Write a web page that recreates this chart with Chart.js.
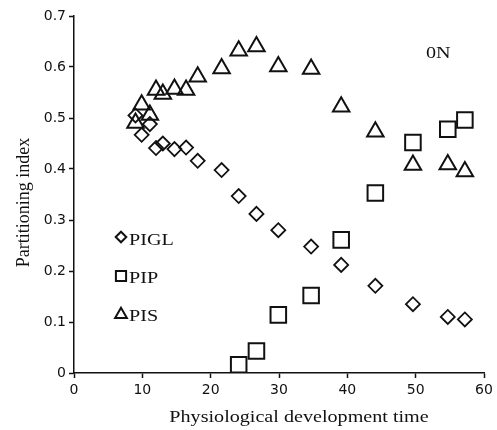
<!DOCTYPE html>
<html>
<head>
<meta charset="utf-8">
<script src="https://cdn.jsdelivr.net/npm/chart.js@4/dist/chart.umd.min.js"></script>
<style>
html,body{margin:0;padding:0;background:#fff;}
#wrap{width:497px;height:430px;position:relative;}
</style>
</head>
<body>
<div id="wrap"><canvas id="c" width="497" height="430"></canvas></div>
<script>
// Physiological development time (x) shared by the series
const pdt = [9.0, 9.9, 11.1, 12.0, 13.0, 14.7, 16.4, 18.1, 21.6, 24.1, 26.7, 29.9, 34.7, 39.1, 44.1, 49.6, 54.7, 57.2];
const pigl = [0.505, 0.467, 0.488, 0.441, 0.450, 0.439, 0.442, 0.416, 0.398, 0.347, 0.312, 0.280, 0.248, 0.212, 0.171, 0.135, 0.110, 0.105];
const pis  = [0.490, 0.526, 0.506, 0.555, 0.547, 0.557, 0.555, 0.581, 0.597, 0.632, 0.640, 0.601, 0.596, 0.522, 0.473, 0.408, 0.409, 0.395];
const pipX = [24.1, 26.7, 29.9, 34.7, 39.1, 44.1, 49.6, 54.7, 57.2];
const pip  = [0.016, 0.043, 0.114, 0.152, 0.261, 0.353, 0.452, 0.478, 0.496];
const seriesNames = ['PIGL', 'PIP', 'PIS'];
const xTicks = [0, 10, 20, 30, 40, 50, 60];
const yTicks = [0, 0.1, 0.2, 0.3, 0.4, 0.5, 0.6, 0.7];
const panelLabel = '0N';
const xTitle = 'Physiological development time';
const yTitle = 'Partitioning index';

const toPts = (xs, ys) => xs.map((x, i) => ({x: x, y: ys[i]}));
const SERIF = '"Liberation Serif", "Times New Roman", serif';
const SANS = '"DejaVu Sans", Verdana, sans-serif';
const SX = 1.15; // horizontal widening of the serif lettering

function wideText(ctx, txt, x, y, align) {
  ctx.save();
  ctx.translate(x, y);
  ctx.scale(SX, 1);
  ctx.textAlign = align;
  ctx.fillText(txt, 0, 0);
  ctx.restore();
}

const overlay = {
  id: 'overlay',
  afterDraw(chart) {
    const ctx = chart.ctx;
    const xs = chart.scales.x, ys = chart.scales.y;
    const ca = chart.chartArea;
    ctx.save();
    ctx.fillStyle = '#111';
    ctx.textBaseline = 'alphabetic';
    // axis titles
    ctx.font = '17.5px ' + SERIF;
    wideText(ctx, xTitle, (ca.left + ca.right) / 2 + 20, 421.5, 'center');
    ctx.save();
    ctx.translate(29, (ca.top + ca.bottom) / 2 + 8);
    ctx.rotate(-Math.PI / 2);
    ctx.font = '18px ' + SERIF;
    ctx.textAlign = 'center';
    ctx.fillText(yTitle, 0, 0);
    ctx.restore();
    // panel label
    ctx.font = '17.5px ' + SERIF;
    wideText(ctx, panelLabel, xs.getPixelForValue(53.3), ys.getPixelForValue(0.629) + 6, 'center');
    // legend
    const styles = ['rectRot', 'rect', 'triangle'];
    const radii = [5.3, 7.2, 6.8];
    const dy = [-1.5, -0.5, 0];
    const lx = ca.left + 47;
    const rows = [238.5, 276.5, 314.5];
    for (let i = 0; i < seriesNames.length; i++) {
      ctx.strokeStyle = '#111';
      ctx.fillStyle = 'rgba(0,0,0,0)';
      ctx.lineWidth = 2;
      Chart.helpers.drawPoint(ctx, {pointStyle: styles[i], radius: radii[i], borderWidth: 2, rotation: 0}, lx, rows[i] + dy[i]);
      ctx.fillStyle = '#111';
      ctx.font = '17.5px ' + SERIF;
      wideText(ctx, seriesNames[i], lx + 8, rows[i] + 6, 'left');
    }
    ctx.restore();
  }
};

new Chart(document.getElementById('c'), {
  type: 'scatter',
  data: {
    datasets: [
      {label: seriesNames[0], data: toPts(pdt, pigl), pointStyle: 'rectRot', pointRadius: 7, pointBorderWidth: 1.8,
       borderColor: '#111', backgroundColor: 'rgba(0,0,0,0)', pointHoverRadius: 7},
      {label: seriesNames[1], data: toPts(pipX, pip), pointStyle: 'rect', pointRadius: 11, pointBorderWidth: 2,
       borderColor: '#111', backgroundColor: 'rgba(0,0,0,0)', pointHoverRadius: 11},
      {label: seriesNames[2], data: toPts(pdt, pis), pointStyle: 'triangle', pointRadius: 9.5, pointBorderWidth: 2,
       borderColor: '#111', backgroundColor: 'rgba(0,0,0,0)', pointHoverRadius: 9.5}
    ]
  },
  options: {
    responsive: false,
    animation: false,
    events: [],
    layout: {padding: {left: 0, right: 12, top: 16, bottom: 0}},
    plugins: {legend: {display: false}, tooltip: {enabled: false}},
    scales: {
      x: {
        type: 'linear', min: 0, max: 60,
        afterBuildTicks: s => { s.ticks = xTicks.map(v => ({value: v})); },
        afterFit: s => { s.height = 57; },
        border: {display: true, color: '#111', width: 1.5},
        grid: {display: true, drawOnChartArea: false, drawTicks: true, tickLength: 5, tickColor: '#111', tickWidth: 1.5},
        ticks: {color: '#111', font: {family: SANS, size: 14}, padding: 4, maxRotation: 0}
      },
      y: {
        type: 'linear', min: 0, max: 0.7,
        afterBuildTicks: s => { s.ticks = yTicks.map(v => ({value: v})); },
        afterFit: s => { s.width = 74; },
        border: {display: true, color: '#111', width: 1.5},
        grid: {display: true, drawOnChartArea: false, drawTicks: true, tickLength: 5, tickColor: '#111', tickWidth: 1.5},
        ticks: {color: '#111', font: {family: SANS, size: 14}, padding: 3,
                callback: v => (v === 0 ? '0' : v.toFixed(1))}
      }
    }
  },
  plugins: [overlay]
});
</script>
</body>
</html>
